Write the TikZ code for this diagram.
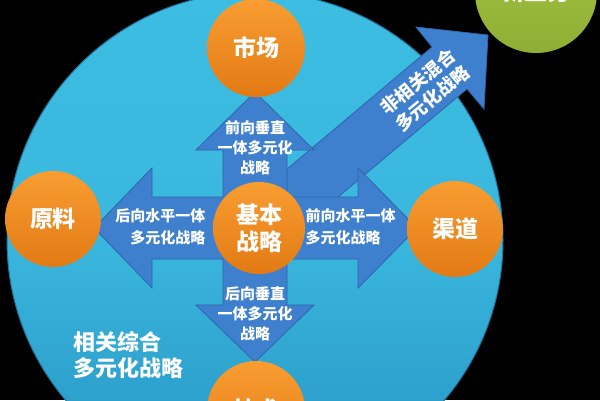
\documentclass[tikz,border=0pt]{standalone}
\usepackage{fontspec}
\usepackage{tikz}
\newfontfamily\cjk{Noto Sans CJK SC}
\definecolor{skyA}{HTML}{3DBDE2}
\definecolor{skyB}{HTML}{2794C4}
\definecolor{arrowBlue}{HTML}{3F80CE}
\definecolor{arrowEdge}{HTML}{2C65AA}
\definecolor{orangeA}{HTML}{F99D31}
\definecolor{orangeB}{HTML}{E27A14}
\definecolor{greenA}{HTML}{A6C544}
\definecolor{greenB}{HTML}{8EAF34}

\begin{document}
\begin{tikzpicture}[x=1pt,y=-1pt,
	ball/.style={circle, inner sep=0pt, top color=orangeA, bottom color=orangeB, text=white, align=center, font=\cjk\bfseries\fontsize{23}{27}\selectfont},
	blockarrow/.style={fill=arrowBlue, draw=arrowEdge, line width=.8pt},
	arrowtext/.style={text=white, font=\cjk\bfseries\fontsize{15}{20}\selectfont}
	]

	\useasboundingbox (0,0) rectangle (600,400);
	\fill[black] (0,0) rectangle (600,400);
	\clip (0,0) rectangle (600,400);

	\shade[top color=skyA, bottom color=skyB, middle color=skyA!85!skyB] (255,240) circle (248);
	\draw[skyB!80!black, line width=1pt] (255,240) circle (248);

	\filldraw[blockarrow] (276,249)--(467,89)--(484,109)--(488,35)--(416,27)--(432,47)--(242,207)--cycle;
	\filldraw[blockarrow]
		(255,92)--(314,150)--(287,150)--(287,197)--(358,197)--(358,168)--(417,228)--(358,288)--(358,259)
		--(287,259)--(287,305)--(314,305)--(255,362)--(196,305)--(223,305)--(223,259)--(152,259)
		--(152,288)--(94,228)--(152,168)--(152,197)--(223,197)--(223,150)--(196,150)--cycle;

	\node[ball, minimum size=98pt] (market) at (256,48) {市场};
	\node[ball, minimum size=96pt] (material) at (53,219) {原料};
	\node[ball, minimum size=96pt] (channel) at (455,229) {渠道};
	\node[ball, minimum size=98pt] (tech) at (256,410) {技术};
	\node[ball, minimum size=92pt] (core) at (259,228) {基本\\战略};
	\node[ball, minimum size=122pt, top color=greenA, bottom color=greenB] (newbiz) at (536,-8) {新业务};

	\node[arrowtext, align=center] (upLbl) at (255,148) {前向垂直\\一体多元化\\战略};
	\node[arrowtext, align=center] (downLbl) at (255,314) {后向垂直\\一体多元化\\战略};
	\node[arrowtext, align=right, anchor=east, font=\cjk\bfseries\fontsize{15}{22}\selectfont] (leftLbl) at (209,227) {后向水平一体\\多元化战略};
	\node[arrowtext, align=left, anchor=west, font=\cjk\bfseries\fontsize{15}{22}\selectfont] (rightLbl) at (302,227) {前向水平一体\\多元化战略};
	\node[arrowtext, align=center, rotate=40, font=\cjk\bfseries\fontsize{18}{22}\selectfont] (diagLbl) at (425,90) {非相关混合\\多元化战略};
	\node[text=white, align=left, anchor=west, font=\cjk\bfseries\fontsize{22}{26}\selectfont] (sideLbl) at (70,355) {相关综合\\多元化战略};
\end{tikzpicture}
\end{document}
